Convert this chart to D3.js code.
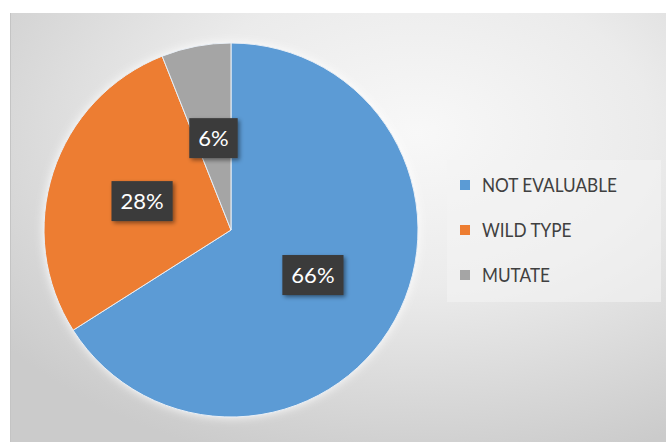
<html>
<head>
<style>
    body { margin: 0; background: #fff; }
    .lbl { font-family: Lato, "Open Sans", sans-serif; font-size: 22px; fill: #fff; }
    .leg { font-family: Lato, "Open Sans", sans-serif; font-size: 20px; fill: #404040; }
</style>
</head>
<body>
<svg id="container" width="666" height="442"></svg>
<script src="https://d3js.org/d3.v7.min.js" charset="utf-8"></script>
<script>
    let categories = ["NOT EVALUABLE", "WILD TYPE", "MUTATE"]
    let values = [66, 28, 6]
    let labels = ["66%", "28%", "6%"]
    let colors = ["#5b9bd5", "#ed7d31", "#a5a5a5"]

    let svg = d3.select("#container")
    let defs = svg.append("defs")

    let grad = defs.append("radialGradient").attr("id", "bg")
        .attr("cx", "0.62").attr("cy", "0.28").attr("r", "0.8")
    grad.append("stop").attr("offset", "0").attr("stop-color", "#f8f8f8")
    grad.append("stop").attr("offset", "0.45").attr("stop-color", "#ebebeb")
    grad.append("stop").attr("offset", "1").attr("stop-color", "#cbcbcb")

    let shadow = defs.append("filter").attr("id", "shadow")
        .attr("x", "-30%").attr("y", "-30%").attr("width", "160%").attr("height", "160%")
    shadow.append("feDropShadow").attr("dx", 2).attr("dy", 2)
        .attr("stdDeviation", 2).attr("flood-color", "#000").attr("flood-opacity", 0.45)

    let glow = defs.append("filter").attr("id", "glow")
        .attr("x", "-20%").attr("y", "-20%").attr("width", "140%").attr("height", "140%")
    glow.append("feDropShadow").attr("dx", 0).attr("dy", 0)
        .attr("stdDeviation", 5).attr("flood-color", "#fff").attr("flood-opacity", 0.9)

    // background panel
    svg.append("rect").attr("x", 10).attr("y", 13).attr("width", 656).attr("height", 429)
        .attr("fill", "url(#bg)")
    svg.append("line").attr("x1", 10.5).attr("x2", 10.5).attr("y1", 13).attr("y2", 442)
        .attr("stroke", "#c4c4c4").attr("stroke-width", 1)

    // legend panel
    svg.append("rect").attr("x", 447).attr("y", 160).attr("width", 214).attr("height", 142)
        .attr("fill", "#f3f3f3").attr("opacity", 0.6)

    let cx = 231, cy = 230, r = 187
    let body = svg.append("g").attr("transform", `translate(${cx},${cy})`)

    let data = categories.map((c, i) => ({ name: c, value: values[i], label: labels[i], color: colors[i] }))
    let pie = d3.pie().value(d => d.value).sort(null)
    let arc = d3.arc().innerRadius(0).outerRadius(r)

    body.append("g").attr("filter", "url(#glow)")
        .selectAll("path")
        .data(pie(data))
        .enter()
        .append("path")
        .attr("d", arc)
        .attr("fill", d => d.data.color)
        .attr("stroke", "#e8eef5")
        .attr("stroke-width", 1)

    let lab = body.selectAll(".lab")
        .data(pie(data))
        .enter()
        .append("g")
        .attr("transform", d => `translate(${arc.centroid(d)})`)

    lab.each(function (d) {
        let g = d3.select(this)
        let t = g.append("text").attr("class", "lbl")
            .attr("text-anchor", "middle").attr("dy", "0.36em")
            .text(d.data.label)
        let w = t.node().getComputedTextLength()
        g.insert("rect", "text")
            .attr("x", -w / 2 - 9).attr("y", -20)
            .attr("width", w + 18).attr("height", 40)
            .attr("fill", "#3a3a3a")
            .attr("filter", "url(#shadow)")
    })

    // legend
    let leg = svg.selectAll(".legItem")
        .data(data)
        .enter()
        .append("g")
        .attr("transform", (d, i) => `translate(460,${185 + i * 45})`)
    leg.append("rect").attr("x", 0).attr("y", -5).attr("width", 10).attr("height", 10)
        .attr("fill", d => d.color)
    leg.append("text").attr("class", "leg")
        .attr("transform", "translate(22,7) scale(0.86,1)")
        .text(d => d.name)
</script>
</body>
</html>
